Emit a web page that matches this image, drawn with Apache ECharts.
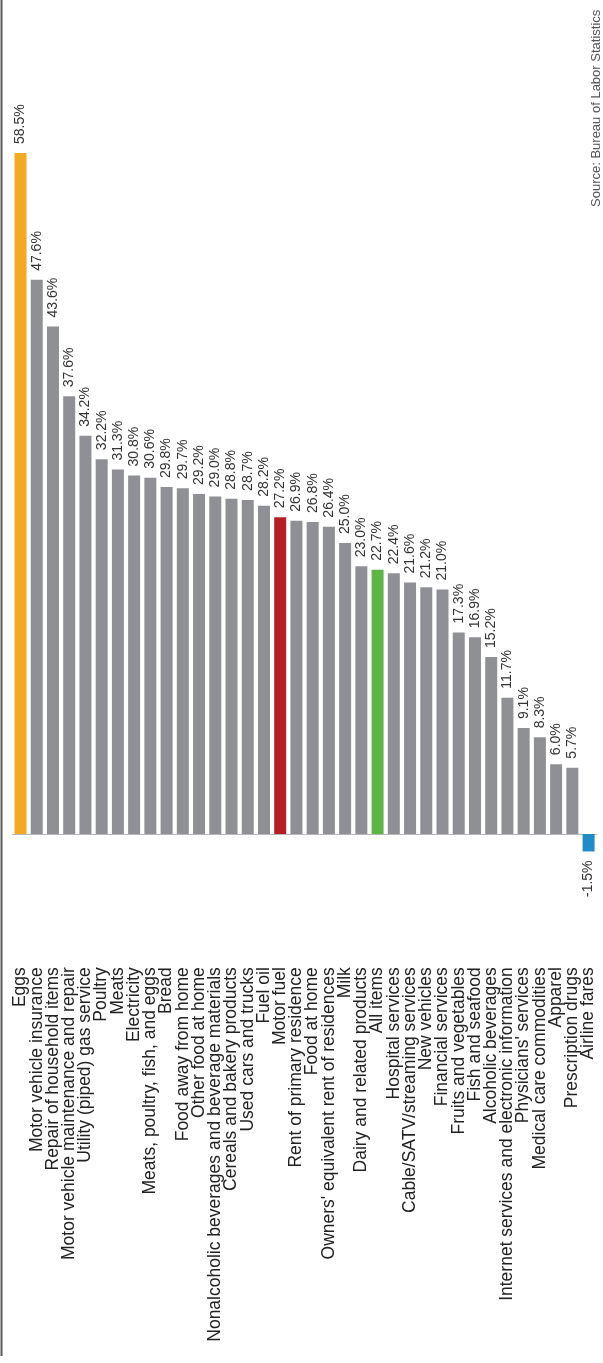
<!DOCTYPE html>
<html>
<head>
<meta charset="utf-8">
<script src="https://cdn.jsdelivr.net/npm/echarts@6/dist/echarts.min.js"></script>
<style>
  html, body { margin: 0; padding: 0; background: #fff; }
  #chart { width: 603px; height: 1363px; }
</style>
</head>
<body>
<div id="chart"></div>
<script>
// Price change by CPI item, percent
const categories = [
  'Eggs', 'Motor vehicle insurance', 'Repair of household items',
  'Motor vehicle maintenance and repair', 'Utility (piped) gas service',
  'Poultry', 'Meats', 'Electricity', 'Meats, poultry, fish, and eggs', 'Bread',
  'Food away from home', 'Other food at home',
  'Nonalcoholic beverages and beverage materials', 'Cereals and bakery products',
  'Used cars and trucks', 'Fuel oil', 'Motor fuel', 'Rent of primary residence',
  'Food at home', "Owners' equivalent rent of residences", 'Milk',
  'Dairy and related products', 'All items', 'Hospital services',
  'Cable/SATV/streaming services', 'New vehicles', 'Financial services',
  'Fruits and vegetables', 'Fish and seafood', 'Alcoholic beverages',
  'Internet services and electronic information', "Physicians' services",
  'Medical care commodities', 'Apparel', 'Prescription drugs', 'Airline fares'
];
const values = [
  58.5, 47.6, 43.6, 37.6, 34.2, 32.2, 31.3, 30.8, 30.6, 29.8,
  29.7, 29.2, 29.0, 28.8, 28.7, 28.2, 27.2, 26.9, 26.8, 26.4,
  25.0, 23.0, 22.7, 22.4, 21.6, 21.2, 21.0, 17.3, 16.9, 15.2,
  11.7, 9.1, 8.3, 6.0, 5.7, -1.5
];
// Highlighted items
const highlight = {
  'Eggs': '#F4A922',
  'Motor fuel': '#B41F25',
  'All items': '#5DB546',
  'Airline fares': '#1E8CC6'
};
const baseColor = '#8F9095';
const sourceText = 'Source: Bureau of Labor Statistics';

const FONT = "'Liberation Sans', Arial, Helvetica, sans-serif";

const seriesData = values.map((v, i) => {
  const item = {
    value: v,
    itemStyle: { color: highlight[categories[i]] || baseColor }
  };
  if (v < 0) {
    item.label = { position: 'bottom', align: 'right' };
  }
  return item;
});

const chart = echarts.init(document.getElementById('chart'), null, { renderer: 'canvas' });

chart.setOption({
  animation: false,
  backgroundColor: '#ffffff',
  grid: {
    left: 12.4, right: 6.3, top: 135.5, bottom: 470.8,
    containLabel: false,
    outerBoundsMode: 'none'
  },
  xAxis: {
    type: 'category',
    data: categories,
    axisLine: { show: true, lineStyle: { color: '#b8b8b8', width: 1 } },
    axisTick: { show: false },
    axisLabel: {
      interval: 0,
      rotate: 90,
      margin: 75,
      fontFamily: FONT,
      fontSize: 17.5,
      color: '#222'
    }
  },
  yAxis: {
    type: 'value',
    min: -5,
    max: 60,
    show: false,
    splitLine: { show: false }
  },
  series: [{
    type: 'bar',
    data: seriesData,
    barWidth: 12,
    label: {
      show: true,
      position: 'top',
      distance: 9,
      rotate: 90,
      align: 'left',
      verticalAlign: 'middle',
      fontFamily: FONT,
      fontSize: 14,
      color: '#333',
      formatter: p => p.value.toFixed(1) + '%'
    }
  }],
  graphic: [
    {
      type: 'line',
      shape: { x1: 1.5, y1: 0, x2: 1.5, y2: 1356 },
      style: { stroke: '#5a5a5a', lineWidth: 2 }
    },
    {
      type: 'text',
      x: 603,
      y: 207,
      rotation: Math.PI / 2,
      style: {
        text: sourceText,
        fontFamily: FONT,
        fontSize: 13,
        fill: '#555',
        align: 'left',
        verticalAlign: 'bottom'
      }
    }
  ]
});
</script>
</body>
</html>
